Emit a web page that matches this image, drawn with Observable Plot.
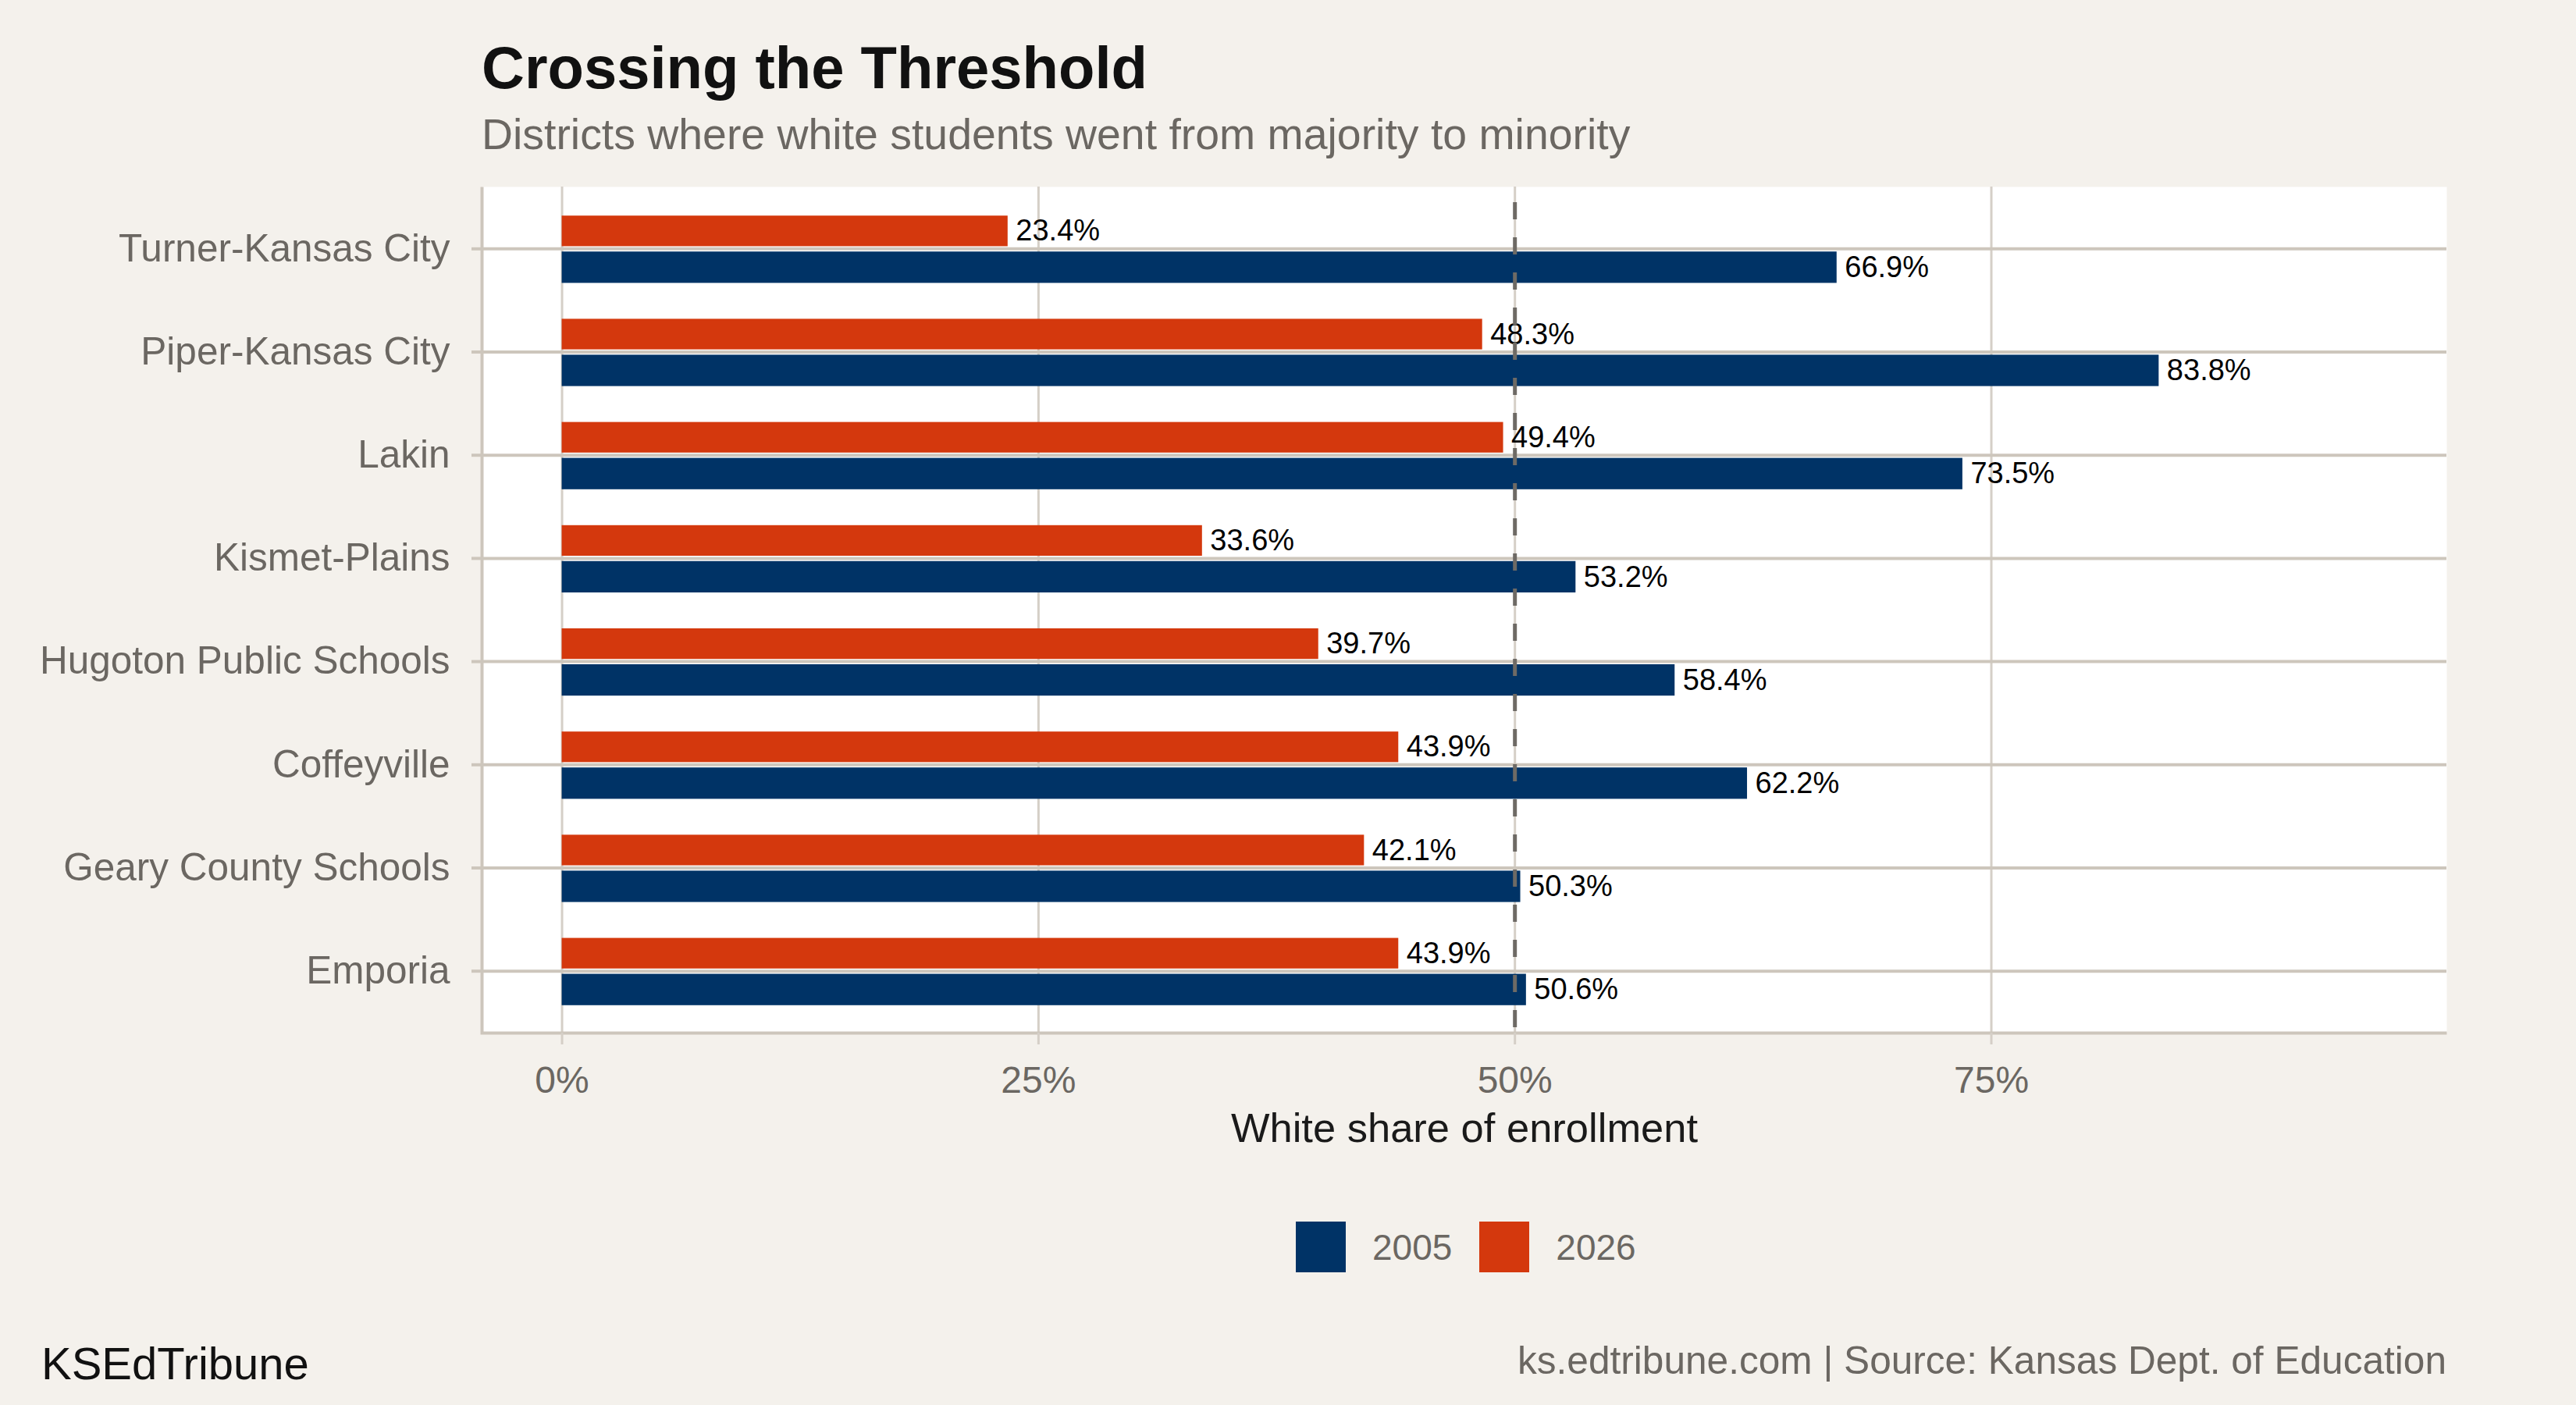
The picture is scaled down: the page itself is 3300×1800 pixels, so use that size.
<!DOCTYPE html>
<html>
<head>
<meta charset="utf-8">
<script src="https://cdn.jsdelivr.net/npm/d3@7"></script>
<script src="https://cdn.jsdelivr.net/npm/@observablehq/plot@0.6"></script>
<style>
  html, body { margin: 0; padding: 0; background: #f4f1ec; }
  #root { position: relative; width: 3300px; height: 1800px; background: #f4f1ec;
          font-family: "Liberation Sans", Arial, Helvetica, sans-serif; overflow: hidden; }
  .abs { position: absolute; white-space: nowrap; line-height: 1; }
  #chart { position: absolute; left: 0; top: 200px; }
  #legend { position: absolute; left: 1660px; top: 1565px; display: flex; align-items: center; }
  .sw { width: 64px; height: 65px; }
  .lab { font-size: 46px; line-height: 1; color: #6b6762; margin-left: 34px; margin-right: 35px; }
</style>
</head>
<body>
<div id="root"></div>
<script>
// ---- data ----
const districts = [
  "Turner-Kansas City",
  "Piper-Kansas City",
  "Lakin",
  "Kismet-Plains",
  "Hugoton Public Schools",
  "Coffeyville",
  "Geary County Schools",
  "Emporia"
];
const values2005 = [66.9, 83.8, 73.5, 53.2, 58.4, 62.2, 50.3, 50.6];
const values2026 = [23.4, 48.3, 49.4, 33.6, 39.7, 43.9, 42.1, 43.9];
const years = ["2005", "2026"];
const yearColors = ["#003366", "#d4380d"];
const xTicks = [0, 25, 50, 75];
const threshold = 50;
const titleText = "Crossing the Threshold";
const subtitleText = "Districts where white students went from majority to minority";
const xLabel = "White share of enrollment";
const brandText = "KSEdTribune";
const sourceText = "ks.edtribune.com | Source: Kansas Dept. of Education";

// ---- table ----
const rows = [];
districts.forEach((d, i) => {
  rows.push({district: d, year: "2005", value: values2005[i]});
  rows.push({district: d, year: "2026", value: values2026[i]});
});

const root = document.getElementById("root");
function addText(txt, css) {
  const el = document.createElement("div");
  el.className = "abs";
  el.textContent = txt;
  Object.assign(el.style, css);
  root.appendChild(el);
  return el;
}

addText(titleText, {left: "617px", top: "49px", fontSize: "76px", fontWeight: "bold", color: "#111111"});
addText(subtitleText, {left: "617px", top: "145px", fontSize: "55.4px", color: "#6b6762"});

const W = 3300, H = 1300;
const mL = 617, mR = 166, mT = 39, mB = 177;
const fw = W - mL - mR, fh = H - mT - mB;
const grid = "#cdc6bc";
const gray = "#6b6762";

const chart = Plot.plot({
  width: W,
  height: H,
  marginLeft: mL,
  marginRight: mR,
  marginTop: mT,
  marginBottom: mB,
  style: {fontFamily: "Liberation Sans, Arial, sans-serif", background: "transparent", overflow: "visible"},
  x: {domain: [-4.2, 98.9]},
  y: {domain: districts, paddingInner: 0, paddingOuter: 0.1, round: false},
  color: {domain: years, range: yearColors},
  marks: [
    Plot.frame({fill: "white", stroke: "none"}),
    Plot.gridX({ticks: xTicks, stroke: "#d5cfc7", strokeOpacity: 1, strokeWidth: 3}),
    Plot.gridY({stroke: grid, strokeOpacity: 1, strokeWidth: 4}),
    Plot.frame({fill: "none", stroke: grid, strokeWidth: 4, strokeDasharray: `0 ${fw + fh} ${fw + fh}`}),
    Plot.barX(rows, {filter: d => d.year === "2026", x: "value", y: "district", fill: "year", insetTop: 24, insetBottom: 69}),
    Plot.barX(rows, {filter: d => d.year === "2005", x: "value", y: "district", fill: "year", insetTop: 70, insetBottom: 22}),
    Plot.text(rows, {filter: d => d.year === "2026", x: "value", y: "district", text: d => d.value.toFixed(1) + "%",
      textAnchor: "start", dx: 10, dy: -22.5, fontSize: 38, fill: "#000"}),
    Plot.text(rows, {filter: d => d.year === "2005", x: "value", y: "district", text: d => d.value.toFixed(1) + "%",
      textAnchor: "start", dx: 10, dy: 24, fontSize: 38, fill: "#000"}),
    Plot.ruleX([threshold], {stroke: "#6e6a65", strokeWidth: 5, strokeDasharray: "22,23", strokeDashoffset: 25}),
    Plot.axisX({ticks: xTicks, tickFormat: d => d + "%", tickSize: 15, tickPadding: 27, stroke: "#d5cfc7", strokeWidth: 3,
      fill: gray, fontSize: 48, label: null}),
    Plot.axisY({tickSize: 13, tickPadding: 28, stroke: grid, strokeWidth: 4, fill: gray, fontSize: 49.5, label: null}),
    Plot.text([xLabel], {text: d => d, frameAnchor: "bottom", lineAnchor: "bottom", dy: 139, fontSize: 52.5, fill: "#1a1a1a"})
  ]
});
chart.id = "chart";
root.appendChild(chart);

// ---- legend ----
const legend = document.createElement("div");
legend.id = "legend";
years.forEach((y, i) => {
  const sw = document.createElement("div");
  sw.className = "sw";
  sw.style.background = yearColors[i];
  const lab = document.createElement("div");
  lab.className = "lab";
  lab.textContent = y;
  legend.appendChild(sw);
  legend.appendChild(lab);
});
root.appendChild(legend);

addText(brandText, {left: "53px", top: "1718px", fontSize: "58px", color: "#111111"});
addText(sourceText, {right: "166px", top: "1719px", fontSize: "49.6px", color: "#6b6762"});
</script>
</body>
</html>
